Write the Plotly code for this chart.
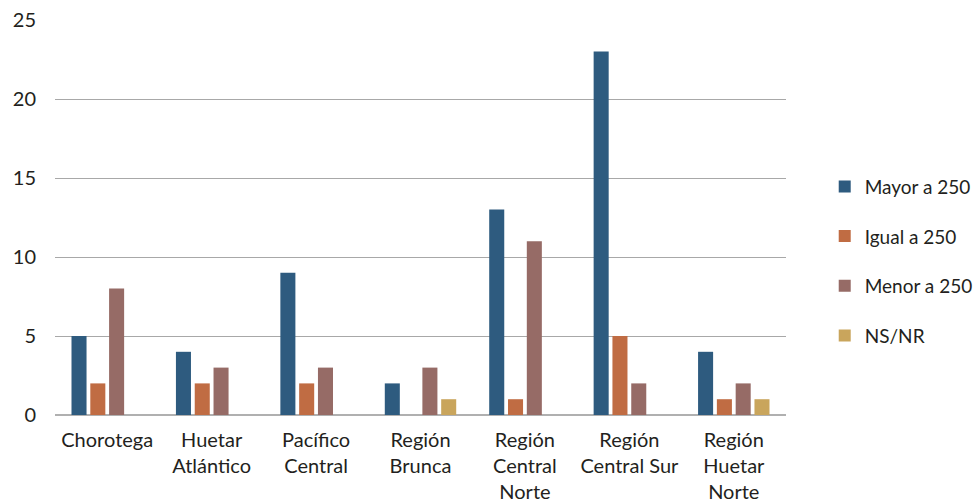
import plotly.graph_objects as go

regions = ["Chorotega", "Huetar<br>Atlántico", "Pacífico<br>Central", "Región<br>Brunca",
           "Región<br>Central<br>Norte", "Región<br>Central Sur", "Región<br>Huetar<br>Norte"]
mayor = [5, 4, 9, 2, 13, 23, 4]
igual = [2, 2, 2, 0, 1, 5, 1]
menor = [8, 3, 3, 3, 11, 2, 2]
nsnr = [0, 0, 0, 1, 0, 0, 1]

series = [
    ("Mayor a 250", mayor, "#2e5b7f"),
    ("Igual a 250", igual, "#c06c43"),
    ("Menor a 250", menor, "#966b66"),
    ("NS/NR", nsnr, "#c9a55c"),
]

fig = go.Figure()
for name, vals, color in series:
    fig.add_trace(go.Bar(x=regions, y=vals, name=name, marker_color=color,
                         marker_line_width=0, legendgroup=name))

font = "Lato, 'Noto Sans', sans-serif"
fig.update_layout(
    width=976, height=504,
    margin=dict(l=55, r=190, t=20, b=89, autoexpand=False),
    paper_bgcolor="white", plot_bgcolor="white",
    barmode="group", bargap=0.28, bargroupgap=0.2,
    font=dict(family=font, size=20, color="#231f20"),
    legend=dict(xref="container", yref="container", x=0.845, y=0.482,
                xanchor="left", yanchor="middle",
                font=dict(size=19), tracegroupgap=22, itemwidth=30),
    xaxis=dict(showgrid=False, showline=False, ticks="", ticklabelstandoff=11),
    yaxis=dict(range=[0, 25], dtick=5, showgrid=True, gridcolor="#a8a8a8", gridwidth=1,
               zeroline=True, zerolinecolor="#b0b0b0", zerolinewidth=2,
               showline=False, ticks="", ticklabelstandoff=18),
)

fig.write_html("out.html")
